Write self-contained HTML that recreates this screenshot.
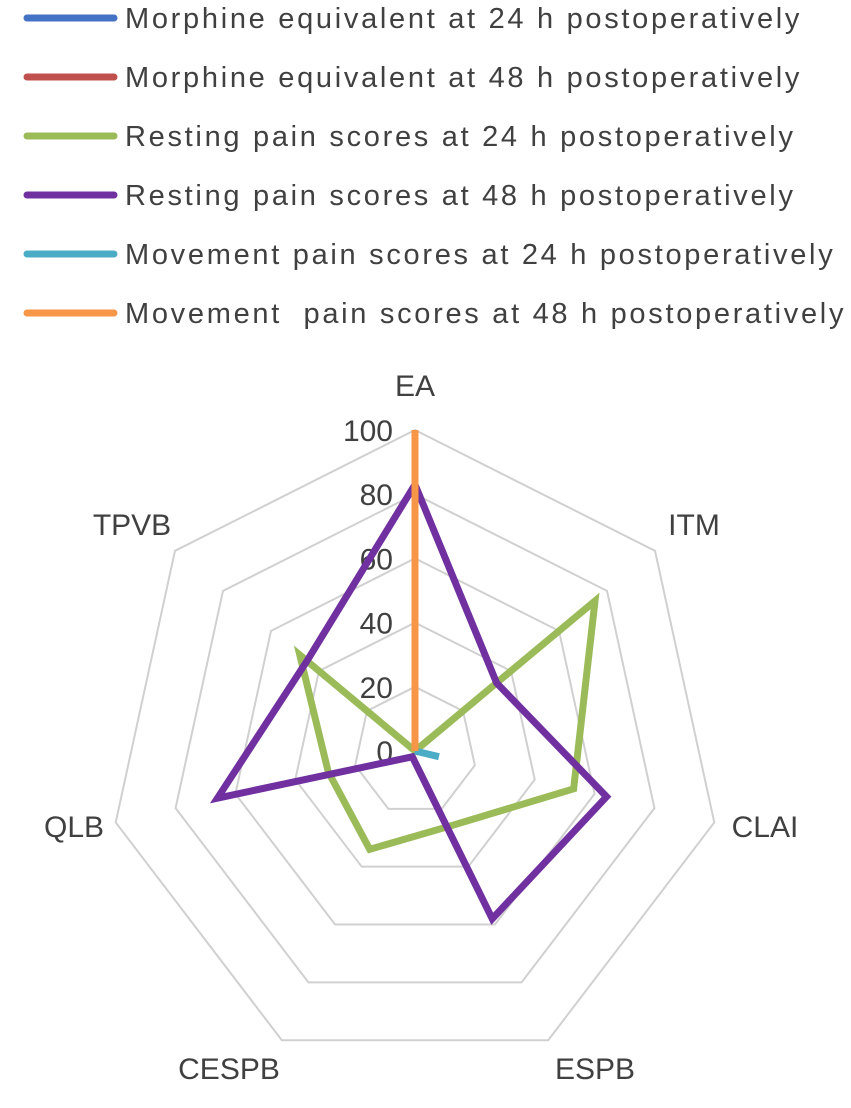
<!DOCTYPE html>
<html><head><meta charset="utf-8"><style>
body{margin:0;background:#fff;}
svg text{font-family:"Liberation Sans",sans-serif;fill:#404040;}
</style></head><body>
<svg id="c" width="851" height="1103"></svg>
<script>
const categories=["EA","ITM","CLAI","ESPB","CESPB","QLB","TPVB"];
const seriesNames=["Morphine equivalent at 24 h postoperatively","Morphine equivalent at 48 h postoperatively","Resting pain scores at 24 h postoperatively","Resting pain scores at 48 h postoperatively","Movement pain scores at 24 h postoperatively","Movement  pain scores at 48 h postoperatively"];
const morph24=[0,0,1,0,0,0,0];
const morph48=[0,0,0,0,0,0,0];
const rest24=[0,75,53,26,34,29,48];
const rest48=[83,34,64,58,2,66,45];
const move24=[0,0,8,0,0,0,0];
const move48=[100,0,0,0,0,0,0];
const ticks=[0,20,40,60,80,100];
const colors=["#4472C4","#C0504D","#9BBB59","#7030A0","#4BACC6","#F79646"];
const allSeries=[morph24,morph48,rest24,rest48,move24,move48];
const NS="http://www.w3.org/2000/svg";
const svg=document.getElementById('c');
const cx=415,cy=751,RX=307,RY=321;
function mk(t,a){const e=document.createElementNS(NS,t);for(const k in a)e.setAttribute(k,a[k]);svg.appendChild(e);return e;}
function ang(i){return i*2*Math.PI/categories.length;}
function px(i,v){return cx+RX*v/100*Math.sin(ang(i));}
function py(i,v){return cy-RY*v/100*Math.cos(ang(i));}
// legend
seriesNames.forEach((n,k)=>{
 const y=18+k*59;
 const l=mk('line',{x1:27,x2:114,y1:y,y2:y,stroke:colors[k],'stroke-width':7,'stroke-linecap':'round'});
 
 
 const t=mk('text',{x:125,y:y+10,'font-size':29,'letter-spacing':'2.7','xml:space':'preserve'});
 t.style.whiteSpace='pre';
 t.textContent=n;
 
 
});
// grid
ticks.slice(1).forEach(v=>{
 const pts=categories.map((c,i)=>px(i,v)+','+py(i,v)).join(' ');
 const g=mk('polygon',{points:pts,fill:'none',stroke:'#d0d0d0','stroke-width':2});
 
 
});
// tick labels
ticks.forEach(v=>{
 const t=mk('text',{x:cx-22,y:py(0,v)+11,'font-size':30,'text-anchor':'end'});
 t.textContent=v;
 
 
});
// category labels
const labelPos=[[415,385],[694,524],[765,826],[595,1068],[229,1068],[74,826],[132,524]];
categories.forEach((c,i)=>{
 const t=mk('text',{x:labelPos[i][0],y:labelPos[i][1]+11,'font-size':30,'text-anchor':'middle'});
 t.textContent=c;
 
 
});
// series
allSeries.forEach((s,k)=>{
 const pts=s.map((v,i)=>px(i,v)+','+py(i,v)).join(' ');
 const p=mk('polygon',{points:pts,fill:'none',stroke:colors[k],'stroke-width':7,'stroke-linejoin':'miter'});
 
 
});
</script>
</body></html>
